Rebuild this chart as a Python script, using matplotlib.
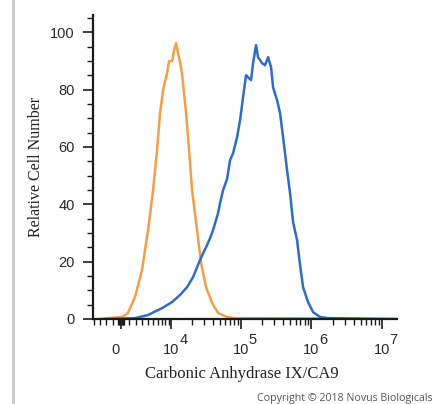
import matplotlib
matplotlib.use("Agg")
import matplotlib.pyplot as plt
from matplotlib.patches import Rectangle
from matplotlib.transforms import ScaledTranslation

# histogram outlines (intensity, % of max)
orange_x = [-3000, 130, 920, 1890, 2960, 4000, 4980, 5860, 6590, 7380, 8540, 9170,
            10200, 10940, 11720, 12560, 13910, 14890, 16470, 18210, 20130, 23770,
            27130, 31990, 38970, 47440, 63700, 82800, 1200000]
orange_y = [0, 0.7, 2.1, 7.7, 17.1, 31.0, 44.9, 58.9, 71.8, 79.8, 85.7, 89.9,
            89.9, 93.7, 96.2, 92.7, 87.8, 82.2, 71.8, 58.9, 44.9, 31.0,
            19.5, 11.1, 5.6, 2.1, 0.7, 0.3, 0.2]

blue_x = [-2000, 1890, 4000, 7110, 10200, 13450, 17030, 20810, 26250, 33060, 36500,
          40270, 47440, 50650, 55880, 63700, 70260, 77510, 88340, 97440, 107480,
          118560, 126560, 139600, 149040, 164400, 175480, 200000, 220560, 243280, 268320,
          286400, 326400, 360000, 397080, 452400, 499000, 550400, 627200, 691800, 763000,
          898400, 1057600, 1329000, 1726000, 16000000]
blue_y = [0, 0.3, 1.4, 3.8, 5.9, 8.4, 11.1, 14.6, 20.6, 25.8, 28.2,
          31.0, 36.9, 40.4, 44.9, 48.8, 55.4, 57.8, 63.4, 69.3, 77.4,
          85.0, 84.3, 83.3, 89.2, 95.5, 91.3, 89.2, 88.5, 91.3, 87.8,
          80.8, 76.3, 71.8, 63.4, 51.9, 43.9, 33.8, 27.5, 18.8, 11.1,
          5.9, 2.4, 0.7, 0.3, 0]

x_major = [0, 1e4, 1e5, 1e6, 1e7]
x_major_labels = ["0", "10", "10", "10", "10"]
x_exponents = ["", "4", "5", "6", "7"]
x_minor = ([-4000, -3000, -2000, -1000, -400, -300, -200, -100, 100, 200, 300, 400]
           + [k * 1000 for k in range(1, 10)]
           + [k * 10 ** e for e in (4, 5, 6) for k in range(2, 10)])
y_major = [0, 20, 40, 60, 80, 100]
y_minor = [5, 10, 15, 25, 30, 35, 45, 50, 55, 65, 70, 75, 85, 90, 95, 105]

W, H = 446, 404
fig = plt.figure(figsize=(W / 100, H / 100), dpi=100)
ax = fig.add_axes([93 / W, 1 - 319 / H, 304 / W, 304 / H])

ax.plot(orange_x, orange_y, color="#f0a048", lw=1.8, zorder=2)
ax.plot(blue_x, blue_y, color="#2f6cc2", lw=1.8, zorder=2)

ax.set_xscale("asinh", linear_width=4000)
ax.set_xlim(-4200, 1.64e7)
ax.set_ylim(0, 106)

ax.set_xticks(x_major)
ax.set_xticklabels(x_major_labels)
ax.set_xticks(x_minor, minor=True)
ax.set_yticks(y_major)
ax.set_yticks(y_minor, minor=True)

for s in ("top", "right"):
    ax.spines[s].set_visible(False)
for s in ("left", "bottom"):
    ax.spines[s].set_linewidth(1.6)
    ax.spines[s].set_color("#1a1a1a")
    ax.spines[s].set_zorder(3)

ax.tick_params(which="major", length=7, width=1.2, color="#1a1a1a",
               labelsize=10.5, labelcolor="#2a2a2a", labelfontfamily="Liberation Sans")
ax.tick_params(which="minor", length=4, width=1.0, color="#1a1a1a")
ax.tick_params(axis="x", which="major", pad=10)
ax.tick_params(axis="y", which="major", pad=6)

# nudge the "0" label left like the original
lab0 = ax.get_xticklabels()[0]
lab0.set_transform(lab0.get_transform() + ScaledTranslation(-6 / 100, 0, fig.dpi_scale_trans))

for val, ex in zip(x_major, x_exponents):
    if ex:
        ax.annotate(ex, xy=(val, 0), xycoords=("data", "axes fraction"),
                    xytext=(5.5, -18), textcoords="offset points",
                    ha="left", va="baseline", fontsize=10.5, color="#2a2a2a",
                    family="Liberation Sans", annotation_clip=False)

ax.set_xlabel("Carbonic Anhydrase IX/CA9", family="Liberation Serif", fontsize=12,
              color="#222222")
ax.xaxis.label.set_verticalalignment("center")
ax.xaxis.set_label_coords((242 - 93) / 304, -(374 - 319) / 304)

ax.set_ylabel("Relative Cell Number", family="Liberation Serif", fontsize=11.5,
              color="#222222")
ax.yaxis.label.set_verticalalignment("center")
ax.yaxis.set_label_coords((36 - 93) / 304, (319 - 167) / 304)

# grey frame edge on the left of the picture
fig.add_artist(Rectangle((12 / W, 0), 3 / W, 1, transform=fig.transFigure,
                         color="#cccccc", lw=0))

fig.text(257 / W, 1 - 401 / H, "Copyright \u00a9 2018 Novus Biologicals",
         family="Open Sans", fontsize=7.7, color="#555555", va="baseline", ha="left")

fig.savefig("out.png", dpi=100)
